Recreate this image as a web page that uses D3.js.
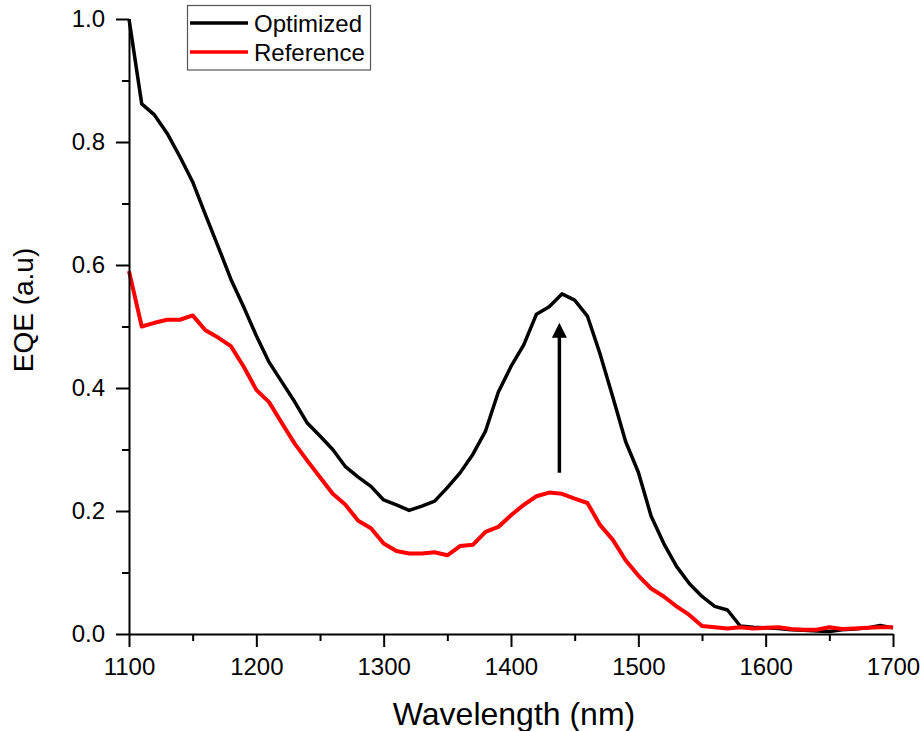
<!DOCTYPE html>
<html>
<head>
<meta charset="utf-8">
<script src="https://cdn.jsdelivr.net/npm/d3@7"></script>
<style>
  html, body { margin: 0; padding: 0; background: #fff; }
  svg { display: block; font-family: "Liberation Sans", Arial, sans-serif; }
</style>
</head>
<body>
<script>
// wavelengths, 10 nm steps
const wavelength = d3.range(1100, 1701, 10);

const optimized = [
  1.0, 0.862, 0.844, 0.814, 0.776, 0.735, 0.682, 0.63, 0.577, 0.532,
  0.485, 0.442, 0.41, 0.378, 0.343, 0.322, 0.3, 0.272, 0.255, 0.24,
  0.218, 0.21, 0.201, 0.208, 0.216, 0.238, 0.262, 0.292, 0.33, 0.393,
  0.435, 0.47, 0.52, 0.532, 0.553, 0.543, 0.517, 0.455, 0.385, 0.313,
  0.263, 0.192, 0.147, 0.11, 0.082, 0.061, 0.045, 0.039, 0.013, 0.011,
  0.01, 0.009, 0.007, 0.006, 0.005, 0.004, 0.007, 0.008, 0.01, 0.014, 0.01
];

const reference = [
  0.59, 0.50, 0.506, 0.511, 0.511, 0.518, 0.494, 0.482, 0.468, 0.435,
  0.397, 0.377, 0.343, 0.31, 0.282, 0.255, 0.228, 0.21, 0.184, 0.172,
  0.147, 0.135, 0.131, 0.131, 0.133, 0.128, 0.143, 0.145, 0.166, 0.174,
  0.193, 0.21, 0.224, 0.23, 0.228, 0.22, 0.213, 0.177, 0.153, 0.12,
  0.095, 0.074, 0.061, 0.045, 0.031, 0.013, 0.011, 0.009, 0.011, 0.009,
  0.01, 0.011, 0.008, 0.007, 0.007, 0.011, 0.008, 0.009, 0.01, 0.011, 0.011
];

const xTicks = [1100, 1200, 1300, 1400, 1500, 1600, 1700];
const yTicks = [0.0, 0.2, 0.4, 0.6, 0.8, 1.0];

const seriesNames = ["Optimized", "Reference"];
const seriesColors = ["#000000", "#ff0000"];

// arrow annotation (data coords)
const arrowX = 1438;
const arrowFrom = 0.262;
const arrowTo = 0.506;

const W = 924, H = 731;
const m = { left: 129, right: 31, top: 19, bottom: 97 };

const svg = d3.select("body").append("svg")
  .attr("width", W).attr("height", H);

const x = d3.scaleLinear().domain([1100, 1700]).range([m.left, W - m.right]);
const y = d3.scaleLinear().domain([0, 1]).range([H - m.bottom, m.top]);

const line = d3.line().x(d => x(d[0])).y(d => y(d[1]));

const series = [optimized, reference];
[0, 1].forEach(i => {
  svg.append("path")
    .datum(wavelength.map((w, j) => [w, series[i][j]]))
    .attr("fill", "none")
    .attr("stroke", seriesColors[i])
    .attr("stroke-width", i === 0 ? 3.5 : 4)
    .attr("stroke-linejoin", "round")
    .attr("d", line);
});

// axes
const xMinor = d3.range(1150, 1700, 100);
const yMinor = d3.range(0.1, 1.0, 0.2);

const gx = svg.append("g").attr("transform", `translate(0,${y(0)})`);
gx.call(d3.axisBottom(x).tickValues(xTicks).tickSize(13).tickSizeOuter(0).tickPadding(11)
  .tickFormat(d3.format("d")));
gx.append("g").call(d3.axisBottom(x).tickValues(xMinor).tickSize(7).tickFormat(""))
  .select(".domain").remove();

const gy = svg.append("g").attr("transform", `translate(${x(1100)},0)`);
gy.call(d3.axisLeft(y).tickValues(yTicks).tickSize(13).tickSizeOuter(0).tickPadding(11)
  .tickFormat(d3.format(".1f")));
gy.append("g").call(d3.axisLeft(y).tickValues(yMinor).tickSize(7).tickFormat(""))
  .select(".domain").remove();

gx.attr("font-size", 24).attr("font-family", "'Liberation Sans', Arial, sans-serif");
gy.attr("font-size", 24).attr("font-family", "'Liberation Sans', Arial, sans-serif");
svg.selectAll(".domain").attr("stroke", "#000").attr("stroke-width", 2);
svg.selectAll(".tick line").attr("stroke", "#000").attr("stroke-width", 2);
svg.selectAll(".tick text")
  .style("font-size", "24px").attr("fill", "#000");

// axis titles
svg.append("text")
  .attr("x", 514).attr("y", 725)
  .attr("text-anchor", "middle")
  .attr("font-size", 32)
  .text("Wavelength (nm)");

svg.append("text")
  .attr("transform", `translate(33,310) rotate(-90)`)
  .attr("text-anchor", "middle")
  .attr("font-size", 28)
  .text("EQE (a.u)");

// arrow
svg.append("line")
  .attr("x1", x(arrowX)).attr("x2", x(arrowX))
  .attr("y1", y(arrowFrom)).attr("y2", y(arrowTo) + 12)
  .attr("stroke", "#000").attr("stroke-width", 3.5);
svg.append("path")
  .attr("d", `M${x(arrowX)},${y(arrowTo)} l-7.5,15 l15,0 Z`)
  .attr("fill", "#000");

// legend
const lg = svg.append("g");
lg.append("rect")
  .attr("x", 187.5).attr("y", 5.5).attr("width", 183).attr("height", 64.5)
  .attr("fill", "#fff").attr("stroke", "#555").attr("stroke-width", 1.2);
seriesNames.forEach((name, i) => {
  const cy = 23 + i * 29;
  lg.append("line")
    .attr("x1", 190).attr("x2", 248).attr("y1", cy).attr("y2", cy)
    .attr("stroke", seriesColors[i]).attr("stroke-width", 3.5);
  lg.append("text")
    .attr("x", 254).attr("y", cy + 8.5)
    .attr("font-size", 24)
    .text(name);
});
</script>
</body>
</html>
